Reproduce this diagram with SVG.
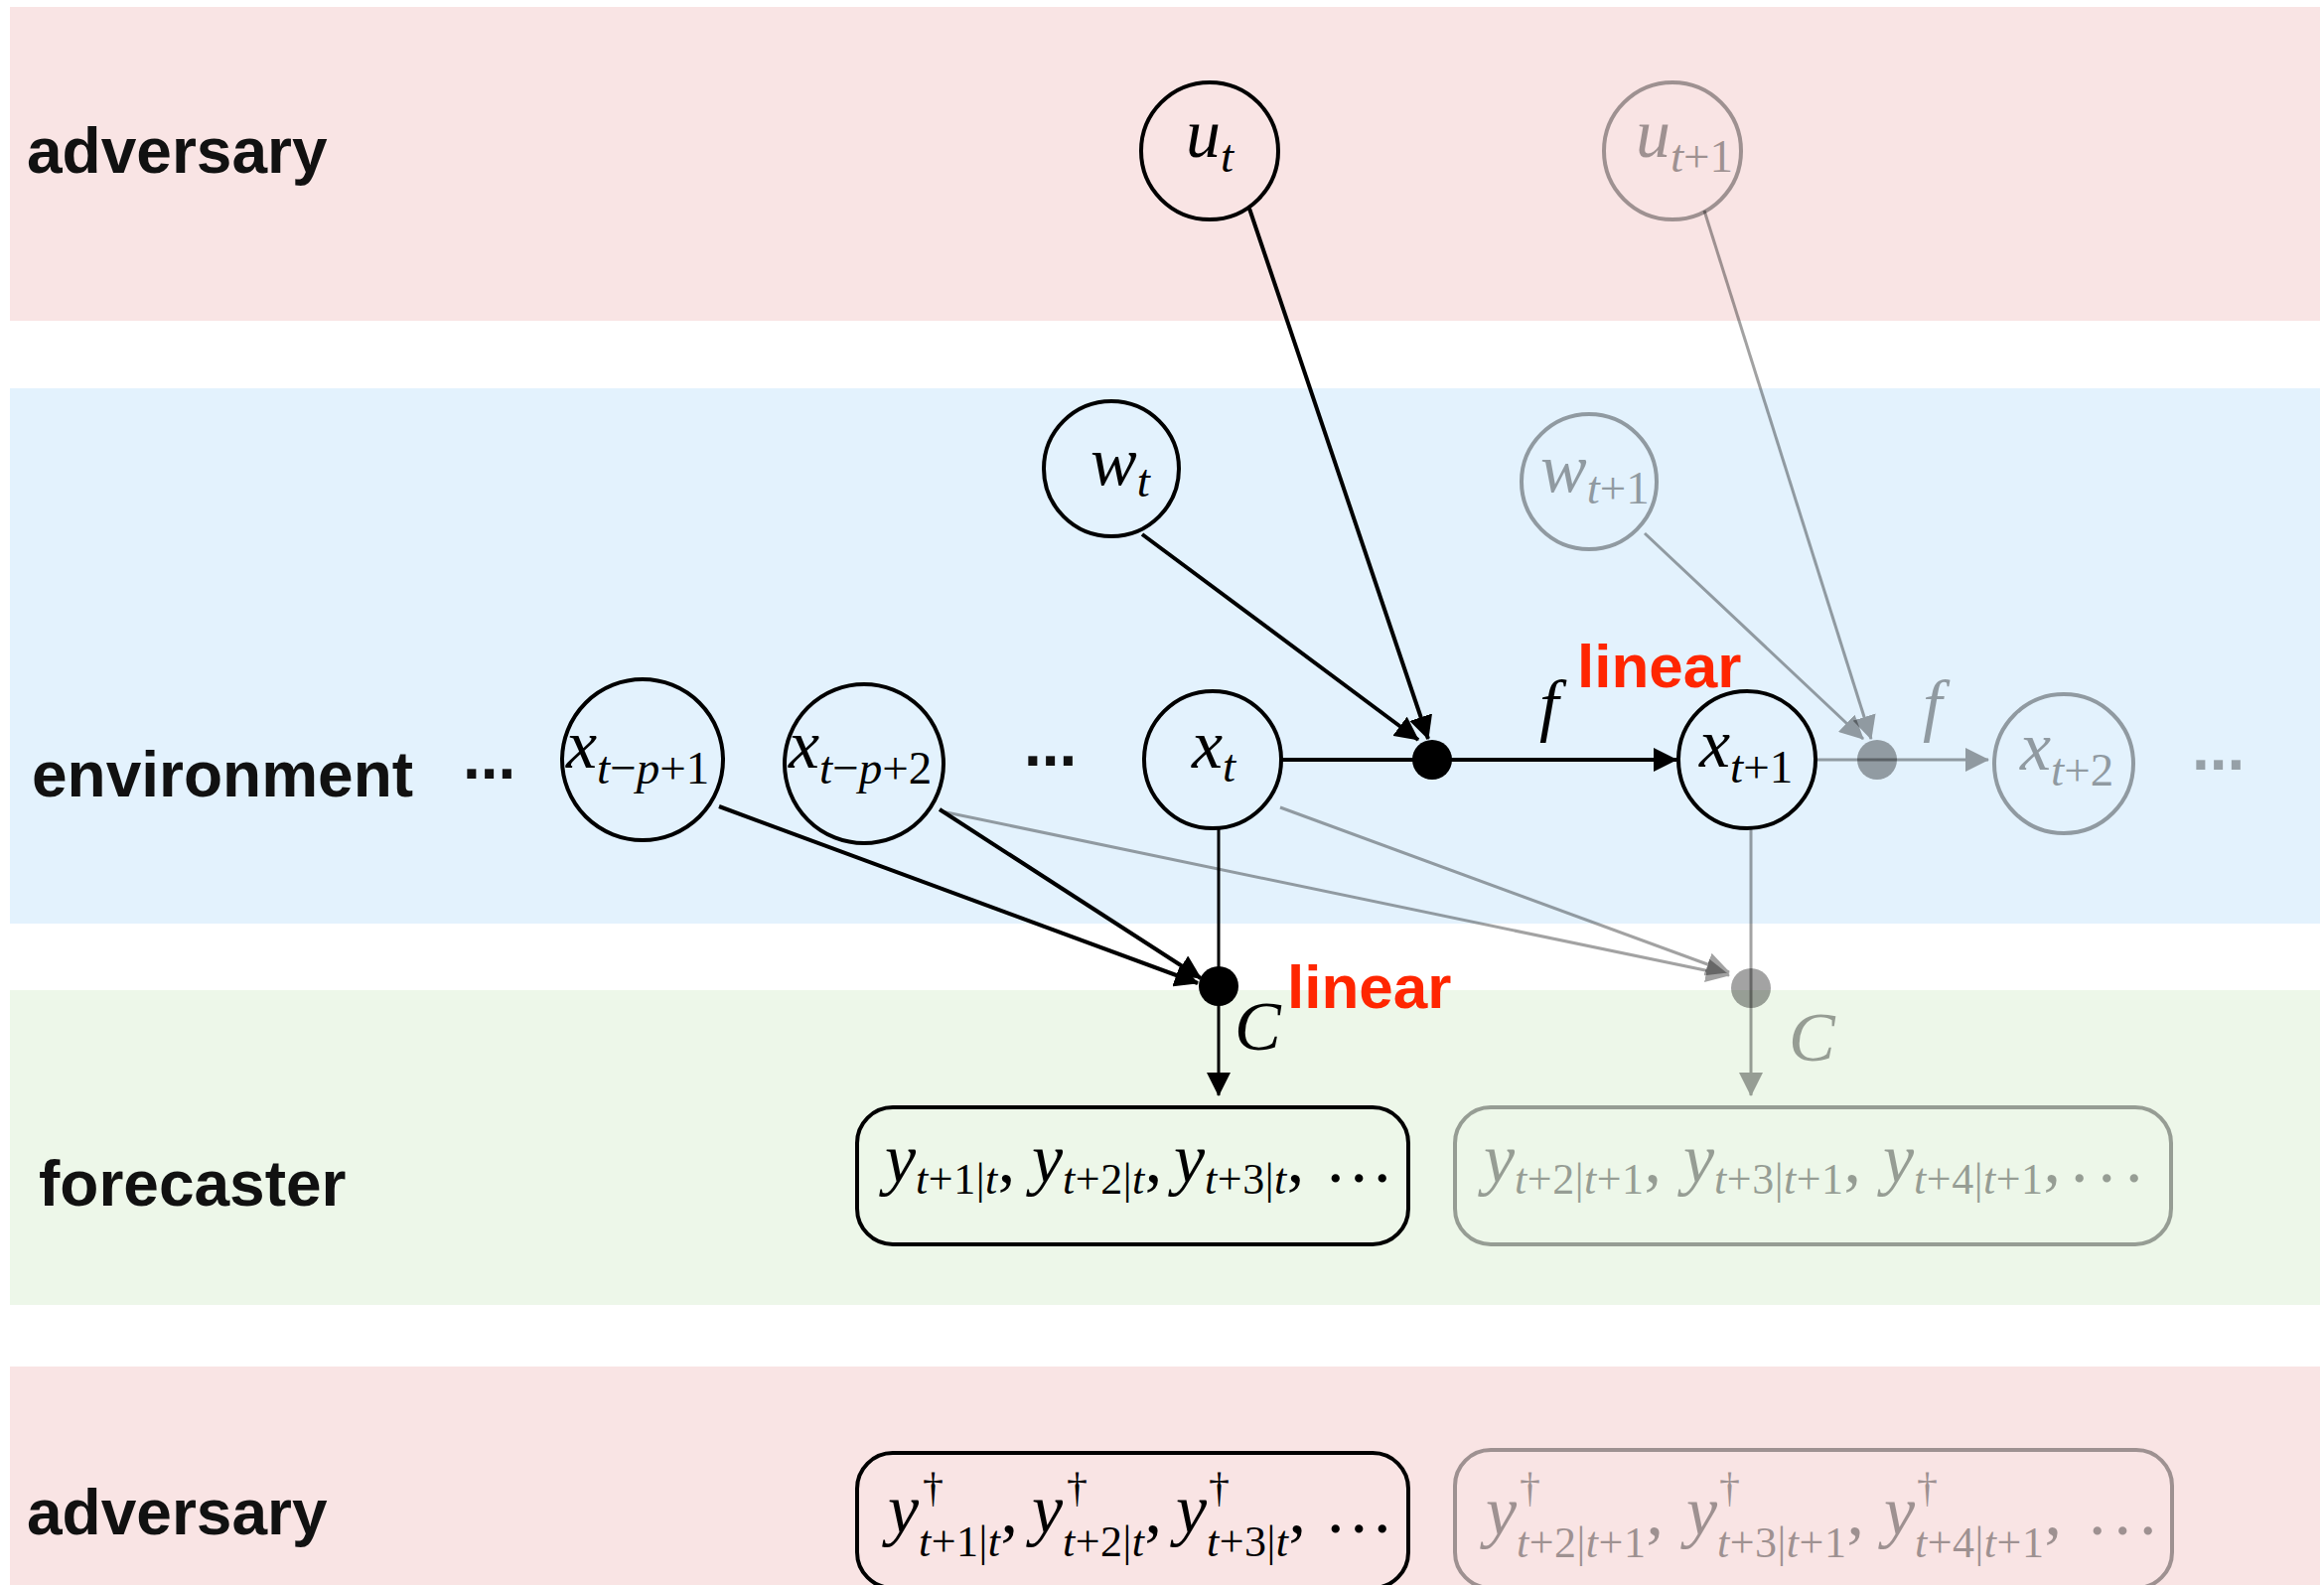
<svg xmlns="http://www.w3.org/2000/svg" width="2340" height="1596" viewBox="0 0 2340 1596">
<style>
.bg{fill:#ffffff}
.br{fill:#F9E4E4}
.bb{fill:#E3F2FD}
.bgn{fill:#EDF7E9}
.lbl{font-family:"Liberation Sans",Arial,sans-serif;font-weight:bold;font-size:64px;fill:#111}
.red{font-family:"Liberation Sans",Arial,sans-serif;font-weight:bold;font-size:62px;fill:#FF2600}
.nc{fill:none;stroke:#000;stroke-width:4}
.mi{font-family:"Liberation Serif","Times New Roman",serif;font-style:italic;font-size:70px;fill:#000}
.sb{font-size:47px}
.bs{font-size:44px;letter-spacing:0.5px}
.dg{font-size:42px}
.up{font-style:normal}
.gr{opacity:0.36}
.ln{fill:none;stroke:#000;stroke-width:4}
.lt{stroke-width:3}
.box{fill:none;stroke:#000;stroke-width:4}
.jd{fill:#000}
</style>
<defs>
<marker id="ah" viewBox="0 0 24 24" refX="23" refY="12" markerWidth="24" markerHeight="24" markerUnits="userSpaceOnUse" orient="auto">
<path d="M0,0 L24,12 L0,24 z" fill="#000"/>
</marker>
</defs>
<rect class="bg" x="0" y="0" width="2340" height="1596"/>
<g id="bands">
<rect class="br" x="10" y="7" width="2326" height="316"/>
<rect class="bb" x="10" y="391" width="2326" height="539"/>
<rect class="bgn" x="10" y="997" width="2326" height="317"/>
<rect class="br" x="10" y="1376" width="2326" height="220"/>
</g>
<g id="band-labels">
<text class="lbl" x="27" y="174">adversary</text>
<text class="lbl" x="32" y="802">environment</text>
<text class="lbl" x="39" y="1214" font-size="66">forecaster</text>
<text class="lbl" x="27" y="1545">adversary</text>
</g>
<g id="connectors">
<line class="ln" x1="1258" y1="210" x2="1438" y2="744" marker-end="url(#ah)"/>
<line class="ln" x1="1150" y1="538" x2="1428" y2="745" marker-end="url(#ah)"/>
<line class="ln" x1="1290" y1="765" x2="1442" y2="765"/>
<line class="ln" x1="1442" y1="765" x2="1688" y2="765" marker-end="url(#ah)"/>
<line class="ln" x1="724" y1="812" x2="1206" y2="990" marker-end="url(#ah)"/>
<line class="ln" x1="946" y1="815" x2="1209" y2="985" marker-end="url(#ah)"/>
<line class="ln lt" x1="1227" y1="834" x2="1227" y2="993"/>
<line class="ln lt" x1="1227" y1="993" x2="1227" y2="1103" marker-end="url(#ah)"/>
<line class="ln lt gr" x1="1830" y1="765" x2="1890" y2="765"/>
<line class="ln lt gr" x1="1890" y1="765" x2="2002" y2="765" marker-end="url(#ah)"/>
<line class="ln lt gr" x1="1716" y1="212" x2="1884" y2="744" marker-end="url(#ah)"/>
<line class="ln lt gr" x1="1656" y1="537" x2="1876" y2="744" marker-end="url(#ah)"/>
<line class="ln lt gr" x1="948" y1="817" x2="1741" y2="982" marker-end="url(#ah)"/>
<line class="ln lt gr" x1="1289" y1="813" x2="1741" y2="979" marker-end="url(#ah)"/>
<line class="ln lt gr" x1="1763" y1="834" x2="1763" y2="995"/>
<line class="ln lt gr" x1="1763" y1="995" x2="1763" y2="1103" marker-end="url(#ah)"/>
</g>
<g id="junction-f"><circle class="jd" cx="1442" cy="765" r="20"/></g>
<g id="junction-C"><circle class="jd" cx="1227" cy="993" r="20"/></g>
<g id="junction-f2"><circle class="jd gr" cx="1890" cy="765" r="20"/></g>
<g id="junction-C2"><circle class="jd gr" cx="1763" cy="995" r="20"/></g>
<g id="edge-labels">
<text class="mi" x="1550" y="733">f</text>
<text class="mi gr" x="1936" y="733">f</text>
<text class="mi" x="1243" y="1057">C</text>
<text class="mi gr" x="1801" y="1068">C</text>
<text class="red" x="1588" y="692">linear</text>
<text class="red" x="1296" y="1015">linear</text>
</g>
<g id="node-u_t">
<circle class="nc" cx="1218" cy="152" r="69"/>
<text class="mi" x="1194" y="158">u<tspan class="sb" dy="15">t</tspan></text>
</g>
<g id="node-u_t1" class="gr">
<circle class="nc" cx="1684" cy="152" r="69"/>
<text class="mi" x="1647" y="158">u<tspan class="sb" dy="15">t<tspan class="up">+1</tspan></tspan></text>
</g>
<g id="node-w_t">
<circle class="nc" cx="1119" cy="472" r="68"/>
<text class="mi" x="1098" y="488">w<tspan class="sb" dy="12">t</tspan></text>
</g>
<g id="node-w_t1" class="gr">
<circle class="nc" cx="1600" cy="485" r="68"/>
<text class="mi" x="1551" y="495">w<tspan class="sb" dy="12">t<tspan class="up">+1</tspan></tspan></text>
</g>
<g id="node-x_tp1">
<circle class="nc" cx="647" cy="765" r="81"/>
<text class="mi" x="570" y="773">x<tspan class="sb" dy="16">t<tspan class="up">−</tspan>p<tspan class="up">+1</tspan></tspan></text>
</g>
<g id="node-x_tp2">
<circle class="nc" cx="870" cy="769" r="80"/>
<text class="mi" x="794" y="773">x<tspan class="sb" dy="16">t<tspan class="up">−</tspan>p<tspan class="up">+2</tspan></tspan></text>
</g>
<g id="node-x_t">
<circle class="nc" cx="1221" cy="765" r="69"/>
<text class="mi" x="1200" y="773">x<tspan class="sb" dy="14">t</tspan></text>
</g>
<g id="node-x_t1">
<circle class="nc" cx="1759" cy="765" r="69"/>
<text class="mi" x="1711" y="772">x<tspan class="sb" dy="16">t<tspan class="up">+1</tspan></tspan></text>
</g>
<g id="node-x_t2" class="gr">
<circle class="nc" cx="2078" cy="769" r="70"/>
<text class="mi" x="2034" y="775">x<tspan class="sb" dy="16">t<tspan class="up">+2</tspan></tspan></text>
</g>
<g id="ellipses">
<text class="lbl" x="466" y="784">...</text>
<text class="lbl" x="1031" y="771">...</text>
<text class="lbl gr" x="2207" y="775">...</text>
</g>
<g id="box-forecast-t">
<rect class="box" x="863" y="1115" width="555" height="138" rx="36"/>
<text class="mi" y="1190"><tspan x="891">y</tspan><tspan class="bs" y="1202">t<tspan class="up">+1|</tspan>t</tspan><tspan class="up" y="1190">,</tspan><tspan x="1039">y</tspan><tspan class="bs" y="1202">t<tspan class="up">+2|</tspan>t</tspan><tspan class="up" y="1190">,</tspan><tspan x="1182">y</tspan><tspan class="bs" y="1202">t<tspan class="up">+3|</tspan>t</tspan><tspan class="up" y="1190">,</tspan><tspan class="up" x="1336" letter-spacing="6">...</tspan></text>
</g>
<g id="box-forecast-t1" class="gr">
<rect class="box" x="1465" y="1115" width="721" height="138" rx="36"/>
<text class="mi" y="1190"><tspan x="1494">y</tspan><tspan class="bs" y="1202">t<tspan class="up">+2|</tspan>t<tspan class="up">+1</tspan></tspan><tspan class="up" y="1190">,</tspan><tspan x="1695">y</tspan><tspan class="bs" y="1202">t<tspan class="up">+3|</tspan>t<tspan class="up">+1</tspan></tspan><tspan class="up" y="1190">,</tspan><tspan x="1896">y</tspan><tspan class="bs" y="1202">t<tspan class="up">+4|</tspan>t<tspan class="up">+1</tspan></tspan><tspan class="up" y="1190">,</tspan><tspan class="up" x="2085" letter-spacing="10">...</tspan></text>
</g>
<g id="box-adv-t">
<rect class="box" x="863" y="1463" width="555" height="136" rx="36"/>
<text class="mi" y="1543"><tspan x="894">y</tspan><tspan class="dg up" x="929" y="1512">†</tspan><tspan class="bs" x="925" y="1567">t<tspan class="up">+1|</tspan>t</tspan><tspan class="up" y="1543">,</tspan><tspan x="1039">y</tspan><tspan class="dg up" x="1074" y="1512">†</tspan><tspan class="bs" x="1070" y="1567">t<tspan class="up">+2|</tspan>t</tspan><tspan class="up" y="1543">,</tspan><tspan x="1184">y</tspan><tspan class="dg up" x="1217" y="1512">†</tspan><tspan class="bs" x="1215" y="1567">t<tspan class="up">+3|</tspan>t</tspan><tspan class="up" y="1543">,</tspan><tspan class="up" x="1336" letter-spacing="6">...</tspan></text>
</g>
<g id="box-adv-t1" class="gr">
<rect class="box" x="1465" y="1460" width="722" height="139" rx="36"/>
<text class="mi" y="1545"><tspan x="1496">y</tspan><tspan class="dg up" x="1530" y="1512">†</tspan><tspan class="bs" x="1527" y="1568">t<tspan class="up">+2|</tspan>t<tspan class="up">+1</tspan></tspan><tspan class="up" y="1545">,</tspan><tspan x="1698">y</tspan><tspan class="dg up" x="1731" y="1512">†</tspan><tspan class="bs" x="1729" y="1568">t<tspan class="up">+3|</tspan>t<tspan class="up">+1</tspan></tspan><tspan class="up" y="1545">,</tspan><tspan x="1897">y</tspan><tspan class="dg up" x="1930" y="1512">†</tspan><tspan class="bs" x="1928" y="1568">t<tspan class="up">+4|</tspan>t<tspan class="up">+1</tspan></tspan><tspan class="up" y="1545">,</tspan><tspan class="up" x="2103" letter-spacing="8">...</tspan></text>
</g>
</svg>
